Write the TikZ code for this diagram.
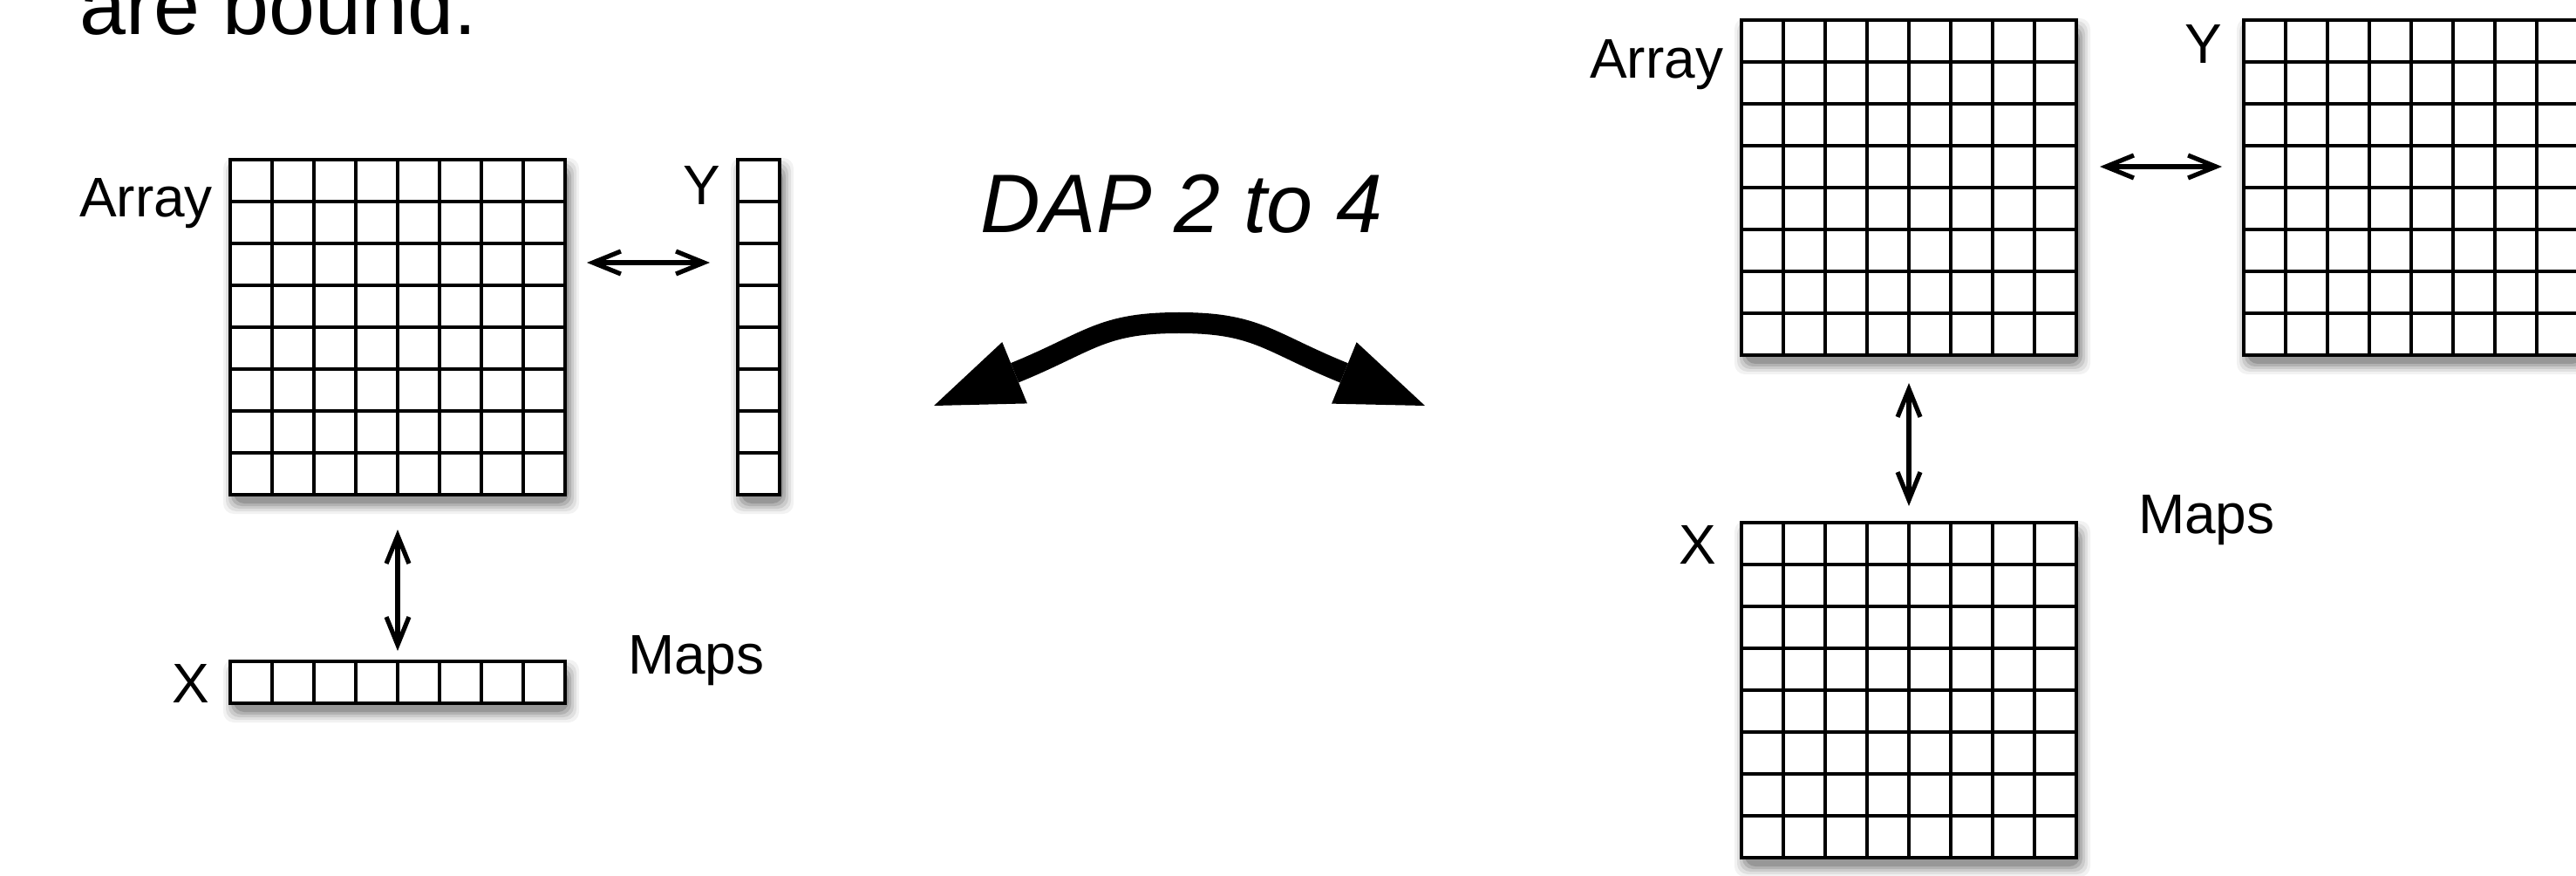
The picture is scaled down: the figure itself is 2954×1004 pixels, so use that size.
\documentclass[tikz,border=0pt]{standalone}
\usepackage{fontspec}
\setmainfont{Liberation Sans}
\usetikzlibrary{arrows.meta,calc}
\tikzset{
  gridbox/.style={fill=white,inner sep=0pt,outer sep=0pt,anchor=north west},
  gl/.style={line width=0.8pt,black},
  gridborder/.style={line width=1pt,black,line join=miter},
  lbl/.style={inner sep=0pt,outer sep=0pt,font=\fontsize{16}{19}\selectfont},
  biglbl/.style={inner sep=0pt,outer sep=0pt,font=\fontsize{23.8}{28}\selectfont},
  biarrow/.style={line width=1.3pt,{Straight Barb[length=8pt,width=6.5pt]}-{Straight Barb[length=8pt,width=6.5pt]}},
  bigarrow/.style={line width=6pt,{Triangle[length=25pt,width=19pt,line width=0pt]}-{Triangle[length=25pt,width=19pt,line width=0pt]}}
}
% #1 x, #2 y, #3 w, #4 h  (pixels)
\newcommand\gridshadow[4]{%
  \foreach \s/\o in {12/0.05,9/0.07,6/0.09,3/0.12,0/0.15}{%
    \fill[black,opacity=\o,rounded corners=3pt] ({#1+4-\s},{#2+10-\s}) rectangle ({#1+#3+4+\s},{#2+#4+10+\s});
  }%
}
% #1 name, #2 x, #3 y, #4 cols, #5 rows, #6 width pt, #7 height pt
\newcommand\cellgrid[7]{%
  \gridshadow{#2}{#3}{#4*48}{#5*48}
  \node[gridbox,minimum width=#6,minimum height=#7] (#1) at (#2,#3) {};
  \foreach \k in {0,...,#4} \draw[gl] ({#2+\k*48},#3) -- ({#2+\k*48},{#3+#5*48});
  \foreach \k in {0,...,#5} \draw[gl] (#2,{#3+\k*48}) -- ({#2+#4*48},{#3+\k*48});
  \draw[gridborder] (#1.north west) rectangle (#1.south east);
}
\begin{document}
\begin{tikzpicture}[x=0.25pt,y=-0.25pt]
\useasboundingbox (0,0) rectangle (2954,1004);
\fill[white] (0,0) rectangle (2954,1004);
\clip (0,0) rectangle (2954,1004);

% title fragment
\node[biglbl,anchor=base west] (title) at (92,40) {are bound.};

% ---- left configuration ----
\cellgrid{arrL}{264}{183}{8}{8}{96pt}{96pt}
\cellgrid{yL}{846}{183}{1}{8}{12pt}{96pt}
\cellgrid{xL}{264}{758}{8}{1}{96pt}{12pt}

\node[lbl,anchor=base east] (arrLlbl) at (244,249) {Array};
\node[lbl,anchor=base east] (yLlbl) at (826,235) {Y};
\node[lbl,anchor=base east] (xLlbl) at (240,805) {X};
\node[lbl,anchor=base west] (mapsL) at (720,772) {Maps};

\coordinate (hLa) at (673,301);
\coordinate (hLb) at (814,301);
\draw[biarrow] (hLa) -- (hLb);
\coordinate (vLa) at (456,607);
\coordinate (vLb) at (456,746);
\draw[biarrow] (vLa) -- (vLb);

% ---- middle ----
\node[biglbl,anchor=base] (dap) at (1355,267) {\itshape DAP 2 to 4};
\coordinate (dl) at (1071,465);
\coordinate (dtop) at (1352,370);
\coordinate (dr) at (1634,465);
\draw[bigarrow] (dl) .. controls (1250,392) and (1262,370) .. (dtop)
  .. controls (1442,370) and (1454,392) .. (dr);

% ---- right configuration ----
\cellgrid{arrR}{1997}{23}{8}{8}{96pt}{96pt}
\cellgrid{yR}{2573}{23}{8}{8}{96pt}{96pt}
\cellgrid{xR}{1997}{599}{8}{8}{96pt}{96pt}

\node[lbl,anchor=base east] (arrRlbl) at (1976,90) {Array};
\node[lbl,anchor=base east] (yRlbl) at (2548,73) {Y};
\node[lbl,anchor=base east] (xRlbl) at (1968,646) {X};
\node[lbl,anchor=base west] (mapsR) at (2452,612) {Maps};

\coordinate (hRa) at (2408,191);
\coordinate (hRb) at (2548,191);
\draw[biarrow] (hRa) -- (hRb);
\coordinate (vRa) at (2189,439);
\coordinate (vRb) at (2189,580);
\draw[biarrow] (vRa) -- (vRb);
\end{tikzpicture}
\end{document}
